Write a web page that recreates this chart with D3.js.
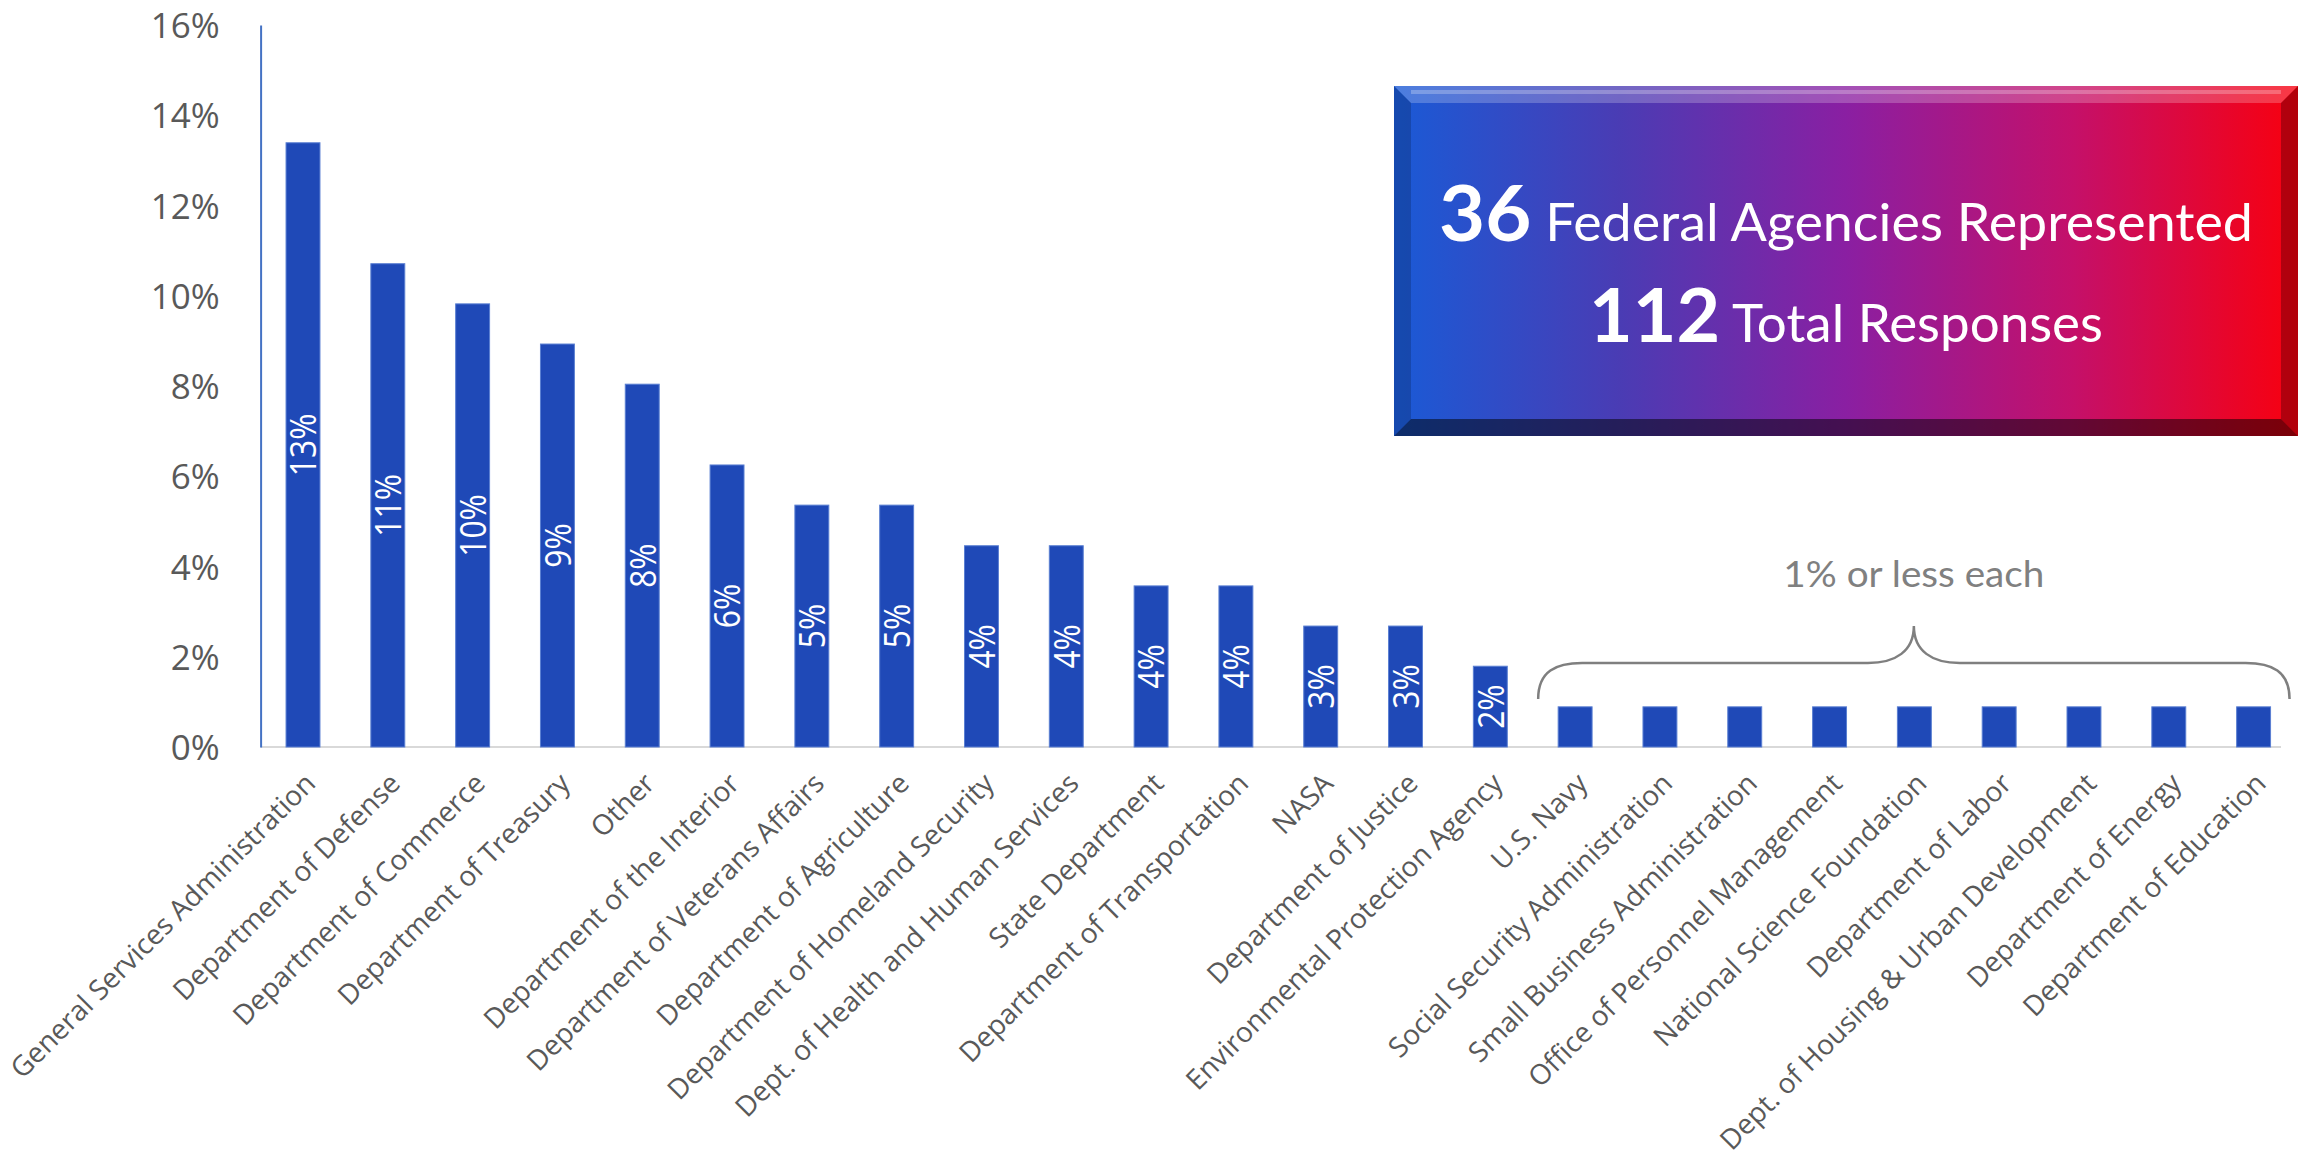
<!DOCTYPE html>
<html>
<head>
<meta charset="utf-8">
<script src="https://cdn.jsdelivr.net/npm/d3@7"></script>
<style>
  html, body { margin: 0; padding: 0; background: #ffffff; }
  svg { display: block; }
</style>
</head>
<body>
<svg id="chart" width="2305" height="1153"></svg>
<script>
// ---------------- DATA ----------------
const categories = [
  "General Services Administration",
  "Department of Defense",
  "Department of Commerce",
  "Department of Treasury",
  "Other",
  "Department of the Interior",
  "Department of Veterans Affairs",
  "Department of Agriculture",
  "Department of Homeland Security",
  "Dept. of Health and Human Services",
  "State Department",
  "Department of Transportation",
  "NASA",
  "Department of Justice",
  "Environmental Protection Agency",
  "U.S. Navy",
  "Social Security Administration",
  "Small Business Administration",
  "Office of Personnel Management",
  "National Science Foundation",
  "Department of Labor",
  "Dept. of Housing & Urban Development",
  "Department of Energy",
  "Department of Education"
];
// share of responses, percent
const values = [13.39, 10.71, 9.82, 8.93, 8.04, 6.25, 5.36, 5.36, 4.46, 4.46,
                3.57, 3.57, 2.68, 2.68, 1.79, 0.89, 0.89, 0.89, 0.89, 0.89,
                0.89, 0.89, 0.89, 0.89];
const yTicks = [0, 2, 4, 6, 8, 10, 12, 14, 16];
const agenciesCount = "36";
const agenciesText = "Federal Agencies Represented";
const responsesCount = "112";
const responsesText = "Total Responses";
const braceNote = "1% or less each";
const braceFrom = "U.S. Navy";
const braceTo = "Department of Education";

// ---------------- LAYOUT ----------------
const svg = d3.select("#chart");
const plot = { left: 260.6, right: 2296, top: 25, bottom: 747 };

const x = d3.scaleBand()
  .domain(categories)
  .range([plot.left, plot.right])
  .paddingInner(0.6)
  .paddingOuter(0.3);

const y = d3.scaleLinear().domain([0, 16]).range([plot.bottom, plot.top]);

const data = categories.map((c, i) => ({ cat: c, v: values[i] }));

// x axis baseline
svg.append("line")
  .attr("x1", plot.left).attr("x2", 2281)
  .attr("y1", y(0)).attr("y2", y(0))
  .attr("stroke", "#d9d9d9").attr("stroke-width", 2);

// y axis
const yAxis = d3.axisLeft(y).tickValues(yTicks).tickSize(0).tickPadding(0)
  .tickFormat(d => d + "%");
const gy = svg.append("g").attr("transform", `translate(${plot.left},0)`).call(yAxis);
gy.select(".domain").attr("stroke", "#4472c4").attr("stroke-width", 2);
gy.selectAll(".tick text")
  .attr("x", -41)
  .attr("dy", "0.36em")
  .attr("fill", "#595959")
  .style("font-family", "'Open Sans', 'Noto Sans', sans-serif")
  .style("font-size", "35px");

// bars
svg.append("g").selectAll("rect").data(data).join("rect")
  .attr("x", d => x(d.cat))
  .attr("width", x.bandwidth())
  .attr("y", d => y(d.v))
  .attr("height", d => y(0) - y(d.v))
  .attr("fill", "#1f49b7")
  .attr("stroke", "#5a7fd2")
  .attr("stroke-width", 1);

// data labels (rotated, inside bars)
svg.append("g").selectAll("text").data(data.filter(d => d.v >= 1.5)).join("text")
  .attr("transform", d => `translate(${x(d.cat) + x.bandwidth() / 2},${(y(d.v) + y(0)) / 2}) rotate(-90) scale(0.86,1)`)
  .attr("text-anchor", "middle")
  .attr("dy", "0.36em")
  .attr("fill", "#ffffff")
  .style("font-family", "'Open Sans', 'Noto Sans', sans-serif")
  .style("font-size", "37px")
  .text(d => Math.round(d.v) + "%");

// category labels
svg.append("g").selectAll("text").data(categories).join("text")
  .attr("transform", c => `translate(${x(c) + x.bandwidth() / 2 + 7},${y(0) + 31}) rotate(-45)`)
  .attr("text-anchor", "end")
  .attr("dy", "0.36em")
  .attr("fill", "#595959")
  .style("font-family", "'Open Sans', 'Noto Sans', sans-serif")
  .style("font-size", "28px")
  .text(c => c);

// ---------------- BRACE ANNOTATION ----------------
const bx0 = x(braceFrom) - 20;
const bx1 = x(braceTo) + x.bandwidth() + 19;
const bmid = (bx0 + bx1) / 2;
const bEnd = 699, bLine = 663, bTip = 626;
const brace = d3.path();
brace.moveTo(bx0, bEnd);
brace.bezierCurveTo(bx0, bLine + 8, bx0 + 18, bLine, bx0 + 44, bLine);
brace.lineTo(bmid - 46, bLine);
brace.bezierCurveTo(bmid - 18, bLine, bmid, bLine - 12, bmid, bTip);
brace.bezierCurveTo(bmid, bLine - 12, bmid + 18, bLine, bmid + 46, bLine);
brace.lineTo(bx1 - 44, bLine);
brace.bezierCurveTo(bx1 - 18, bLine, bx1, bLine + 8, bx1, bEnd);
svg.append("path").attr("d", brace.toString())
  .attr("fill", "none").attr("stroke", "#7f7f7f").attr("stroke-width", 2.5);

svg.append("text")
  .attr("x", bmid).attr("y", 587)
  .attr("text-anchor", "middle")
  .attr("fill", "#808080")
  .attr("textLength", 261).attr("lengthAdjust", "spacingAndGlyphs")
  .style("font-family", "Lato, 'Open Sans', sans-serif")
  .style("font-size", "37px")
  .text(braceNote);

// ---------------- GRADIENT BOX ----------------
const box = { x: 1394, y: 86, w: 904, h: 350, b: 17 };
const defs = svg.append("defs");
const grad = defs.append("linearGradient").attr("id", "boxGrad")
  .attr("x1", "0%").attr("x2", "100%").attr("y1", "0%").attr("y2", "0%");
[["0%", "#1a5ad6"], ["25%", "#4a3cb4"], ["50%", "#8a1fa2"], ["75%", "#c4106a"], ["100%", "#f8000e"]]
  .forEach(([o, c]) => grad.append("stop").attr("offset", o).attr("stop-color", c));

const gBox = svg.append("g");
gBox.append("rect")
  .attr("x", box.x).attr("y", box.y).attr("width", box.w).attr("height", box.h)
  .attr("fill", "url(#boxGrad)");
const X0 = box.x, Y0 = box.y, X1 = box.x + box.w, Y1 = box.y + box.h, B = box.b;
const bevels = [
  { pts: [[X0, Y0], [X1, Y0], [X1 - B, Y0 + B], [X0 + B, Y0 + B]], fill: "#ffffff", op: 0.22 },
  { pts: [[X0, Y1], [X1, Y1], [X1 - B, Y1 - B], [X0 + B, Y1 - B]], fill: "#000000", op: 0.5 },
  { pts: [[X0, Y0], [X0 + B, Y0 + B], [X0 + B, Y1 - B], [X0, Y1]], fill: "#000000", op: 0.18 },
  { pts: [[X1, Y0], [X1 - B, Y0 + B], [X1 - B, Y1 - B], [X1, Y1]], fill: "#000000", op: 0.28 }
];
gBox.selectAll("polygon").data(bevels).join("polygon")
  .attr("points", d => d.pts.map(p => p.join(",")).join(" "))
  .attr("fill", d => d.fill).attr("fill-opacity", d => d.op);
// top highlight line
gBox.append("line")
  .attr("x1", X0 + B).attr("x2", X1 - B).attr("y1", Y0 + 6).attr("y2", Y0 + 6)
  .attr("stroke", "#ffffff").attr("stroke-opacity", 0.25).attr("stroke-width", 4);

function boxLine(cx, baseline, big, small, bigSize, smallSize, targetWidth) {
  const g = gBox.append("g");
  const t = g.append("text")
    .attr("text-anchor", "middle")
    .attr("fill", "#ffffff")
    .style("font-family", "Lato, 'Open Sans', sans-serif");
  t.append("tspan").style("font-weight", "700").style("font-size", bigSize + "px").text(big);
  t.append("tspan").style("font-weight", "400").style("font-size", smallSize + "px").text("\u00a0" + small);
  const w = t.node().getComputedTextLength();
  const sx = targetWidth / w;
  g.attr("transform", `translate(${cx},${baseline}) scale(${sx},1)`);
}
boxLine(X0 + box.w / 2, 241, agenciesCount, agenciesText, 77, 52, 814);
boxLine(X0 + box.w / 2, 342, responsesCount, responsesText, 74, 52, 514);
</script>
</body>
</html>
